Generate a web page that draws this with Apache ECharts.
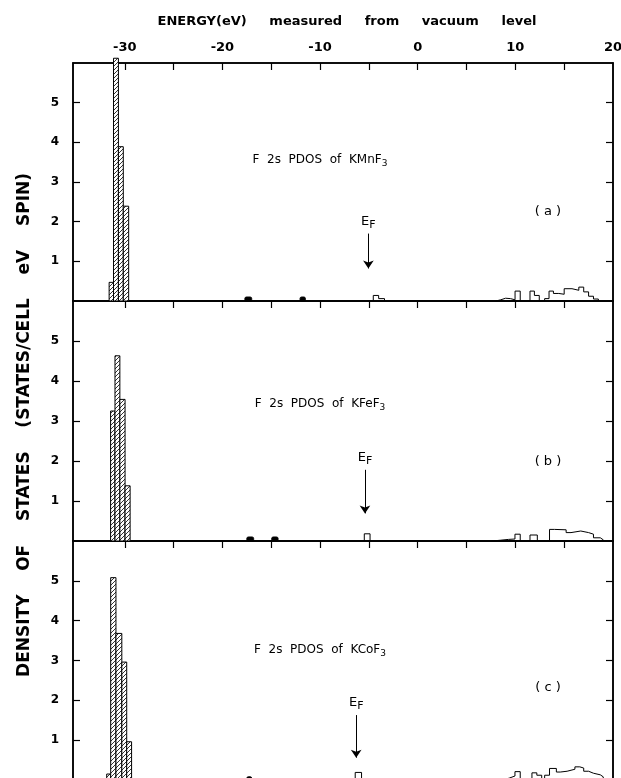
<!DOCTYPE html>
<html>
<head>
<meta charset="utf-8">
<script src="https://cdn.jsdelivr.net/npm/echarts@6/dist/echarts.min.js"></script>
<style>
html,body{margin:0;padding:0;background:#fff;}
#chart{width:621px;height:778px;}
</style>
</head>
<body>
<div id="chart"></div>
<script>
// ---------- data (energy in eV, DOS in states/cell eV spin) ----------
const xTickValues = [-30, -25, -20, -15, -10, -5, 0, 5, 10, 15];
const xLabelValues = [-30, -20, -10, 0, 10, 20];
const yTickValues = [1, 2, 3, 4, 5];
const panelNames = ['KMnF', 'KFeF', 'KCoF'];
const panelTags = ['a', 'b', 'c'];

// F 2s main peak (hatched histogram): bin edges and heights
const peakEdgesA = [-31.6, -31.15, -30.65, -30.15, -29.6];
const peakValsA  = [0.47, 6.12, 3.89, 2.39];
const peakEdgesB = [-31.45, -31.0, -30.5, -29.97, -29.45];
const peakValsB  = [3.25, 4.63, 3.54, 1.38];
const peakEdgesC = [-31.85, -31.44, -30.9, -30.3, -29.8, -29.3];
const peakValsC  = [0.15, 5.08, 3.68, 2.96, 0.96];

// small filled bits in the valence region: [from, to, height]
const smallA = [[-17.7, -17.0, 0.1], [-12.05, -11.5, 0.1]];
const smallB = [[-17.5, -16.8, 0.1], [-14.95, -14.3, 0.1]];
const smallC = [[-17.5, -17.0, 0.08]];

// open histogram near the Fermi level
const nearEfEdgesA = [-4.55, -4.0, -3.4];
const nearEfValsA  = [0.14, 0.06];
const nearEfEdgesB = [-5.47, -4.88];
const nearEfValsB  = [0.18];
const nearEfEdgesC = [-6.4, -5.75];
const nearEfValsC  = [0.19];

// open histogram in the conduction band
const condEdgesA = [8.0, 8.5, 9.0, 9.5, 9.97, 10.5, 11.5, 11.95, 12.45, 13.0, 13.45, 13.9, 14.45, 15.0, 15.8, 16.5, 17.0, 17.5, 18.0, 18.5];
const condValsA  = [0.03, 0.07, 0.06, 0.03, 0.25, 0, 0.25, 0.14, 0, 0.06, 0.25, 0.19, 0.17, 0.31, 0.27, 0.35, 0.23, 0.12, 0.05];
const condEdgesB = [7.6, 8.5, 9.3, 9.96, 10.5, 11.5, 12.25, 13.5, 14.0, 15.2, 15.7, 16.7, 17.5, 18.0, 18.7, 19.0];
const condValsB  = [0.02, 0.04, 0.05, 0.17, 0, 0.15, 0, 0.29, 0.28, 0.21, 0.25, 0.21, 0.17, 0.08, 0.03];
const condEdgesC = [8.8, 9.4, 9.96, 10.5, 11.7, 12.2, 12.7, 13.0, 13.5, 14.2, 14.6, 15.3, 16.1, 16.6, 17.0, 17.5, 18.0, 18.7, 19.0];
const condValsC  = [0.05, 0.1, 0.21, 0, 0.18, 0.12, 0, 0.12, 0.29, 0.2, 0.22, 0.27, 0.33, 0.3, 0.22, 0.17, 0.13, 0.08];

// Fermi level arrows: [energy, yStart, yEnd]
const efA = [-5.05, 1.70, 0.82];
const efB = [-5.4, 1.78, 0.69];
const efC = [-6.3, 1.63, 0.56];

// ---------- helpers ----------
function binsToRects(edges, vals) {
  return vals.map((v, i) => [edges[i], edges[i + 1], v]);
}
function stepPoints(edges, vals) {
  const pts = [[edges[0], 0]];
  vals.forEach((v, i) => pts.push([edges[i], v]));
  pts.push([edges[edges.length - 1], 0]);
  return pts;
}

// hatch pattern
const hatch = document.createElement('canvas');
hatch.width = 4; hatch.height = 4;
(function () {
  const c = hatch.getContext('2d');
  c.fillStyle = '#fff'; c.fillRect(0, 0, 4, 4);
  c.strokeStyle = '#000'; c.lineWidth = 0.8;
  c.beginPath();
  c.moveTo(0, 4); c.lineTo(4, 0);
  c.moveTo(-1, 1); c.lineTo(1, -1);
  c.moveTo(3, 5); c.lineTo(5, 3);
  c.stroke();
})();

const panels = [
  {peakE: peakEdgesA, peakV: peakValsA, small: smallA, nE: nearEfEdgesA, nV: nearEfValsA, cE: condEdgesA, cV: condValsA, ef: efA},
  {peakE: peakEdgesB, peakV: peakValsB, small: smallB, nE: nearEfEdgesB, nV: nearEfValsB, cE: condEdgesB, cV: condValsB, ef: efB},
  {peakE: peakEdgesC, peakV: peakValsC, small: smallC, nE: nearEfEdgesC, nV: nearEfValsC, cE: condEdgesC, cV: condValsC, ef: efC}
];

const gridTops = [63, 301, 541];
const gridHeights = [238, 240, 239];
const FONT = 'DejaVu Sans';

const grid = [], xAxis = [], yAxis = [], series = [];
panels.forEach((p, i) => {
  grid.push({left: 73, right: 8, top: gridTops[i], height: gridHeights[i], show: true,
    outerBoundsMode: 'none', containLabel: false,
    borderColor: '#000', borderWidth: 1.5, backgroundColor: 'transparent'});
  xAxis.push({
    type: 'value', gridIndex: i, position: 'top', min: -35.3, max: 20,
    axisLine: {show: true, onZero: false, lineStyle: {color: '#000', width: 1.5}},
    axisTick: {show: true, inside: true, length: 7, customValues: xTickValues, lineStyle: {color: '#000', width: 1.2}},
    axisLabel: {show: i === 0, customValues: xLabelValues, margin: 9, color: '#000',
      fontFamily: FONT, fontWeight: 'bold', fontSize: 13, hideOverlap: false},
    splitLine: {show: false}
  });
  yAxis.push({
    type: 'value', gridIndex: i, min: 0, max: 6, position: 'left',
    axisLine: {show: true, onZero: false, lineStyle: {color: '#000', width: 1.5}},
    axisTick: {show: true, inside: true, length: 7, customValues: yTickValues, lineStyle: {color: '#000', width: 1.2}},
    axisLabel: {show: true, customValues: yTickValues, margin: 14, color: '#000',
      fontFamily: FONT, fontWeight: 'bold', fontSize: 12},
    splitLine: {show: false}
  });
  yAxis.push({
    type: 'value', gridIndex: i, min: 0, max: 6, position: 'right',
    axisLine: {show: true, onZero: false, lineStyle: {color: '#000', width: 1.5}},
    axisTick: {show: true, inside: true, length: 7, customValues: yTickValues, lineStyle: {color: '#000', width: 1.2}},
    axisLabel: {show: false},
    splitLine: {show: false}
  });
  const yL = 2 * i;
  // hatched peak
  series.push({
    type: 'custom', xAxisIndex: i, yAxisIndex: yL, clip: false, silent: true,
    encode: {x: [0, 1], y: 2},
    data: binsToRects(p.peakE, p.peakV),
    renderItem: function (params, api) {
      const a = api.coord([api.value(0), api.value(2)]);
      const b = api.coord([api.value(1), 0]);
      return {type: 'rect', shape: {x: a[0], y: a[1], width: b[0] - a[0], height: b[1] - a[1]},
        style: {fill: {image: hatch, repeat: 'repeat'}, stroke: '#000', lineWidth: 1}};
    }
  });
  // small filled bits
  series.push({
    type: 'custom', xAxisIndex: i, yAxisIndex: yL, clip: false, silent: true,
    encode: {x: [0, 1], y: 2},
    data: p.small,
    renderItem: function (params, api) {
      const a = api.coord([api.value(0), api.value(2)]);
      const b = api.coord([api.value(1), 0]);
      return {type: 'rect', shape: {x: a[0], y: a[1], width: b[0] - a[0], height: b[1] - a[1], r: 1.5},
        style: {fill: '#000', stroke: '#000', lineWidth: 1}};
    }
  });
  // near-Ef open histogram + Fermi arrow
  series.push({
    type: 'line', xAxisIndex: i, yAxisIndex: yL, step: 'end', symbol: 'none', silent: true,
    lineStyle: {color: '#000', width: 1},
    data: stepPoints(p.nE, p.nV),
    markLine: {
      silent: true, symbol: ['none', 'arrow'], symbolSize: 8,
      lineStyle: {color: '#000', width: 1, type: 'solid'},
      label: {show: true, position: 'start', distance: 3,
        formatter: '{e|E}{f|F}',
        rich: {e: {fontFamily: FONT, fontSize: 13, color: '#000', lineHeight: 18},
               f: {fontFamily: FONT, fontSize: 11, color: '#000', lineHeight: 9, verticalAlign: 'bottom'}}},
      data: [[{coord: [p.ef[0], p.ef[1]]}, {coord: [p.ef[0], p.ef[2]]}]]
    }
  });
  // conduction band open histogram
  series.push({
    type: 'line', xAxisIndex: i, yAxisIndex: yL, step: 'end', symbol: 'none', silent: true,
    lineStyle: {color: '#000', width: 1},
    data: stepPoints(p.cE, p.cV)
  });
});

const textTops = [160, 404, 650];
const tagTops = [212, 462, 688];
const graphic = [
  {type: 'text', x: 347, y: 22, style: {
    text: 'ENERGY(eV)     measured     from     vacuum     level',
    font: 'bold 13px "DejaVu Sans"', fill: '#000', align: 'center', verticalAlign: 'middle'}},
  {type: 'text', x: 25, y: 425, rotation: Math.PI / 2, style: {
    text: 'DENSITY    OF    STATES    (STATES/CELL    eV    SPIN)',
    font: 'bold 17px "DejaVu Sans"', fill: '#000', align: 'center', verticalAlign: 'middle'}}
];
panelNames.forEach((n, i) => {
  graphic.push({type: 'text', x: 320, y: textTops[i], style: {
    text: '{a|F  2s  PDOS  of  ' + n + '}{b|3}', align: 'center', verticalAlign: 'middle',
    rich: {a: {fontFamily: FONT, fontSize: 12, fill: '#000', lineHeight: 16},
           b: {fontFamily: FONT, fontSize: 9, fill: '#000', lineHeight: 9, verticalAlign: 'bottom'}}}});
  graphic.push({type: 'text', x: 548, y: tagTops[i], style: {
    text: '( ' + panelTags[i] + ' )', font: '13px "DejaVu Sans"', fill: '#000', align: 'center', verticalAlign: 'middle'}});
});

const chart = echarts.init(document.getElementById('chart'), null, {renderer: 'canvas'});
chart.setOption({
  animation: false,
  backgroundColor: '#fff',
  grid: grid, xAxis: xAxis, yAxis: yAxis, series: series, graphic: graphic
});
</script>
</body>
</html>
